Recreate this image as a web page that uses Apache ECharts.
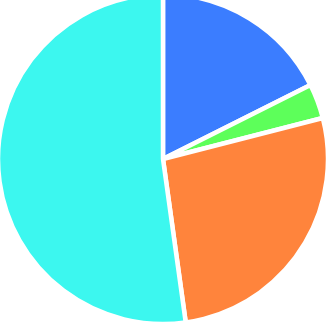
<!DOCTYPE html>
<html><head><meta charset="utf-8">
<script src="https://cdn.jsdelivr.net/npm/echarts@6/dist/echarts.min.js"></script>
<style>html,body{margin:0;padding:0;background:#fff}#c{width:326px;height:322px}</style>
</head><body><div id="c"></div>
<script>
const categories = ['A', 'B', 'C', 'D'];
const values = [17.6, 3.4, 26.8, 52.2];
const colors = ['#3b7dff', '#5dff5a', '#ff843c', '#3cf7ef'];
const chart = echarts.init(document.getElementById('c'));
chart.setOption({
  animation: false,
  series: [{
    type: 'pie',
    radius: [0, 165],
    center: [163, 159],
    startAngle: 90,
    clockwise: true,
    label: { show: false },
    labelLine: { show: false },
    itemStyle: { borderColor: '#fff', borderWidth: 4.5 },
    data: categories.map((c, i) => ({ name: c, value: values[i], itemStyle: { color: colors[i] } }))
  }]
});
</script></body></html>
